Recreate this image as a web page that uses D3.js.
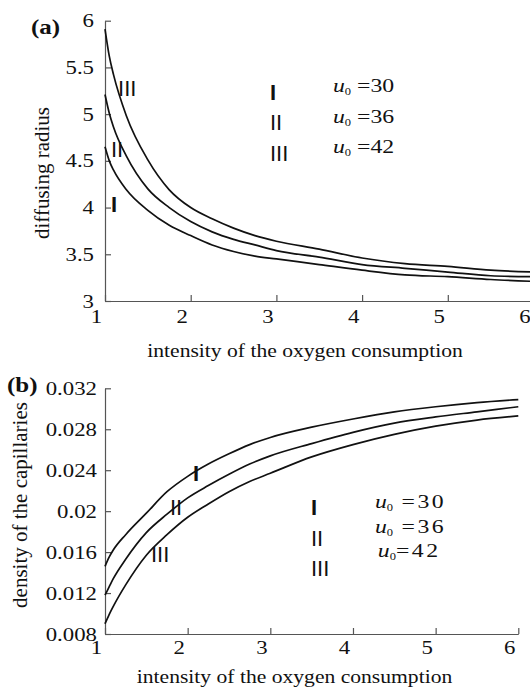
<!DOCTYPE html>
<html><head><meta charset="utf-8">
<script src="https://cdn.jsdelivr.net/npm/d3@7"></script>
<style>body{margin:0;background:#fff}svg{display:block}</style>
</head><body>
<script>
// ---- data ----
const xTicks = [1, 2, 3, 4, 5, 6];
const radiusTicks = [3, 3.5, 4, 4.5, 5, 5.5, 6];
const densityTicks = [0.008, 0.012, 0.016, 0.02, 0.024, 0.028, 0.032];
const intensity = [1, 1.05, 1.1, 1.25, 1.5, 1.75, 2, 2.25, 2.5, 2.75, 3, 3.5, 4, 4.5, 5, 5.5, 6];
const radiusI   = [4.65, 4.50, 4.40, 4.19, 3.97, 3.81, 3.70, 3.60, 3.53, 3.48, 3.45, 3.39, 3.33, 3.28, 3.26, 3.23, 3.21];
const radiusII  = [5.21, 5.01, 4.86, 4.55, 4.20, 4.00, 3.85, 3.74, 3.66, 3.60, 3.54, 3.47, 3.39, 3.35, 3.31, 3.27, 3.26];
const radiusIII = [5.91, 5.62, 5.42, 4.98, 4.51, 4.19, 4.00, 3.88, 3.78, 3.70, 3.64, 3.555, 3.46, 3.40, 3.37, 3.33, 3.31];
const densityI   = [0.0146, 0.0155, 0.0162, 0.0177, 0.0198, 0.0219, 0.0234, 0.0246, 0.0256, 0.0265, 0.0272, 0.0282, 0.0290, 0.0297, 0.0302, 0.0306, 0.0309];
const densityII  = [0.0118, 0.0126, 0.0134, 0.0153, 0.0179, 0.0197, 0.0213, 0.0225, 0.0236, 0.0246, 0.0254, 0.0266, 0.0277, 0.0286, 0.0292, 0.0297, 0.0302];
const densityIII = [0.0090, 0.0099, 0.0107, 0.0128, 0.0157, 0.0177, 0.0194, 0.0207, 0.0219, 0.0229, 0.0237, 0.0253, 0.0265, 0.0275, 0.0283, 0.0289, 0.0293];
const seriesNames = ["I", "II", "III"];
const u0Values = ["30", "36", "42"];
const xTitle = "intensity of the oxygen consumption";
const yTitleA = "diffusing radius";
const yTitleB = "density of the capillaries";
// annotation anchors, in data units
const curveLabelsA = [{t:"III", x:1.152, y:5.195}, {t:"II", x:1.07, y:4.54}, {t:"I", x:1.07, y:3.95}];
const legendNumA = [{t:"I", x:2.925, y:5.15}, {t:"II", x:2.925, y:4.83}, {t:"III", x:2.925, y:4.50}];
const legendTxtA = [{v:"30", x:3.66, y:5.238}, {v:"36", x:3.66, y:4.906}, {v:"42", x:3.66, y:4.585}];
const curveLabelsB = [{t:"I", x:2.065, y:0.02294}, {t:"II", x:1.786, y:0.01962}, {t:"III", x:1.556, y:0.01503}];
const legendNumB = [{t:"I", x:3.492, y:0.01962}, {t:"II", x:3.492, y:0.0166}, {t:"III", x:3.492, y:0.01367}];
const legendTxtB = [{v:"30", x:4.266, y:0.02031, sp:" "}, {v:"36", x:4.266, y:0.01787, sp:" "}, {v:"42", x:4.30, y:0.01552, sp:""}];

// ---- drawing ----
const SERIF = "'Liberation Serif','Times New Roman',serif";
const SANS = "'Liberation Sans',Arial,sans-serif";
const SX = 1.2;
const svg = d3.select("body").append("svg").attr("width", 530).attr("height", 693);

const xA = d3.scaleLinear().domain([1, 6]).range([105, 533.5]);
const yA = d3.scaleLinear().domain([3, 6]).range([301, 20.7]);
const xB = d3.scaleLinear().domain([1, 6]).range([105, 518.3]);
const yB = d3.scaleLinear().domain([0.008, 0.032]).range([634, 388.3]);

function stretch(sel, sx, dx) {
  sel.each(function () {
    const t = d3.select(this);
    const x = (+t.attr("x") || 0) + (dx || 0);
    const y = +t.attr("y") || 0;
    t.attr("transform", `translate(${x},${y}) scale(${sx},1)`).attr("x", 0).attr("y", 0);
  });
}
function label(x, y, str, o) {
  return svg.append("text")
    .attr("transform", `translate(${x},${y})` + (o.rot ? ` rotate(${o.rot})` : "") + ` scale(${o.sx || 1},1)`)
    .attr("font-family", o.family || SERIF).attr("font-size", o.size)
    .attr("font-weight", o.weight || "normal")
    .attr("text-anchor", o.anchor || "start").attr("fill", "#111").text(str);
}
function styleAxis(g) {
  g.attr("font-family", SERIF).attr("font-size", 19);
  g.select(".domain").attr("stroke", "#555").attr("stroke-width", 1.2);
  g.selectAll(".tick line").attr("stroke", "#555").attr("stroke-width", 1.2);
  g.selectAll(".tick text").attr("fill", "#111");
}
function panel(xs, ys, yTicks, xPad, yPad, series) {
  const gx = svg.append("g").attr("transform", `translate(0,${ys.range()[0]})`)
    .call(d3.axisBottom(xs).tickValues(xTicks).tickFormat(d => String(d))
      .tickSizeInner(-6).tickSizeOuter(0).tickPadding(xPad));
  styleAxis(gx);
  stretch(gx.selectAll(".tick text"), SX, -9);
  const gy = svg.append("g").attr("transform", `translate(${xs.range()[0]},0)`)
    .call(d3.axisLeft(ys).tickValues(yTicks).tickFormat(d => String(d))
      .tickSizeInner(-6).tickSizeOuter(0).tickPadding(yPad));
  styleAxis(gy);
  stretch(gy.selectAll(".tick text"), SX, 0);
  const line = d3.line().x((d, i) => xs(intensity[i])).y(d => ys(d)).curve(d3.curveMonotoneX);
  series.forEach(s => svg.append("path").attr("d", line(s)).attr("fill", "none")
    .attr("stroke", "#111").attr("stroke-width", 1.7));
}
panel(xA, yA, radiusTicks, 8.5, 11, [radiusI, radiusII, radiusIII]);
panel(xB, yB, densityTicks, 7, 8, [densityI, densityII, densityIII]);

// titles
label(305, 357, xTitle, {size: 18, anchor: "middle", sx: SX});
label(294.5, 683, xTitle, {size: 18, anchor: "middle", sx: SX});
label(49, 173, yTitleA, {size: 21, anchor: "middle", rot: -90});
label(27, 505, yTitleB, {size: 21, anchor: "middle", rot: -90});
label(31, 34, "(a)", {size: 20, weight: "bold", sx: 1.25});
label(7, 392, "(b)", {size: 20, weight: "bold", sx: 1.25});

function numerals(list, xs, ys) {
  list.forEach(d => label(xs(d.x), ys(d.y), d.t,
    {family: SANS, size: 22, weight: d.t === "I" ? "bold" : "normal"}));
}
function u0Text(list, xs, ys, spacing) {
  list.forEach(d => {
    const t = svg.append("text")
      .attr("transform", `translate(${xs(d.x)},${ys(d.y)}) scale(1.25,1)`)
      .attr("font-family", SERIF).attr("font-size", 19).attr("fill", "#111");
    t.append("tspan").attr("font-style", "italic").text("u");
    t.append("tspan").attr("font-size", 10).attr("dy", 3).text("0");
    t.append("tspan").attr("dy", -3).attr("letter-spacing", spacing).text((d.sp === undefined ? " " : d.sp) + "=" + d.v);
  });
}
numerals(curveLabelsA, xA, yA);
numerals(legendNumA, xA, yA);
u0Text(legendTxtA, xA, yA, 0);
numerals(curveLabelsB, xB, yB);
numerals(legendNumB, xB, yB);
u0Text(legendTxtB, xB, yB, 2);
</script>
</body></html>
